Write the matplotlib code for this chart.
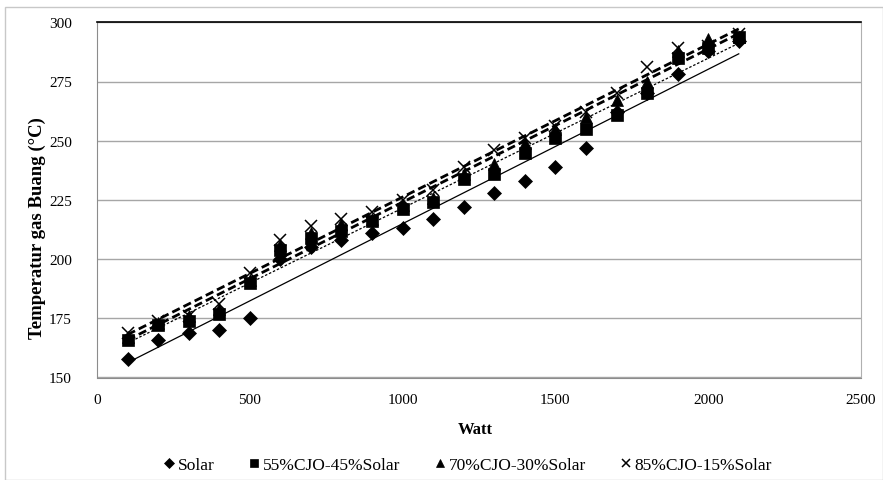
import numpy as np
import matplotlib
matplotlib.use("Agg")
import matplotlib.pyplot as plt
from matplotlib.patches import Rectangle

watt = [100, 200, 300, 400, 500, 600, 700, 800, 900, 1000, 1100,
        1200, 1300, 1400, 1500, 1600, 1700, 1800, 1900, 2000, 2100]
solar = [158, 166, 169, 170, 175, 200, 205, 208, 211, 213, 217,
         222, 228, 233, 239, 247, 262, 270, 278, 288, 292]
cjo55 = [166, 172, 174, 177, 190, 204, 209, 212, 216, 221, 224,
         234, 236, 245, 251, 255, 261, 270, 285, 289, 294]
cjo70 = [167, 173, 176, 179, 191, 206, 211, 215, 217, 223, 226,
         236, 240, 249, 255, 260, 267, 275, 288, 293, 294]
cjo85 = [169, 174, 176, 181, 194, 208, 214, 217, 220, 225, 229,
         239, 246, 251, 256, 262, 270, 281, 289, 290, 295]
labels = ["Solar", "55%CJO-45%Solar", "70%CJO-30%Solar", "85%CJO-15%Solar"]

plt.rcParams['font.family'] = ['Liberation Serif', 'DejaVu Serif']

fig = plt.figure(figsize=(8.83, 4.81), dpi=100)
W, H = 883, 481
ax_l, ax_r, ax_t, ax_b = 97, 861, 23.3, 378.5
ax = fig.add_axes([ax_l / W, 1 - ax_b / H, (ax_r - ax_l) / W, (ax_b - ax_t) / H])

# figure border
fig.patches.append(Rectangle((5 / W, 0), 1 - 5 / W - 0.5 / W, 1 - 8 / H,
                             transform=fig.transFigure, fill=False,
                             edgecolor='#c8c8c8', linewidth=1))

series = [solar, cjo55, cjo70, cjo85]
markers = ['D', 's', '^', 'x']
msizes = [7.5, 8, 8, 8]
trend_styles = [dict(ls='-', lw=0.9),
                dict(ls=(0, (2, 1.5)), lw=0.9),
                dict(ls=(0, (3, 1.5)), lw=2.0),
                dict(ls=(0, (3, 1.5)), lw=2.0)]

x = np.array(watt, dtype=float)
handles = []
for ys, m, ms, st, lab in zip(series, markers, msizes, trend_styles, labels):
    y = np.array(ys, dtype=float)
    h, = ax.plot(x, y, linestyle='none', marker=m, markersize=ms,
                 color='black', markeredgecolor='black',
                 markeredgewidth=1.1 if m == 'x' else 0.5, label=lab, zorder=3)
    handles.append(h)
    k, b = np.polyfit(x, y, 1)
    ax.plot([x[0], x[-1]], [k * x[0] + b, k * x[-1] + b], color='black',
            zorder=2, **st)

ax.set_xlim(0, 2500)
ax.set_ylim(150, 300)
ax.set_xticks(np.arange(0, 2501, 500))
ax.set_yticks(np.arange(150, 301, 25))
ax.yaxis.grid(True, color='#a6a6a6', linewidth=1)
ax.set_axisbelow(True)
ax.tick_params(length=0, labelsize=11)
ax.tick_params(axis='x', pad=11)
ax.tick_params(axis='y', pad=18)
for s in ['left', 'bottom']:
    ax.spines[s].set_color('#8c8c8c')
ax.spines['right'].set_color('#b0b0b0')
ax.spines['top'].set_color('black')
ax.spines['top'].set_linewidth(1.2)

ax.set_xlabel('Watt', fontsize=12, fontweight='bold')
ax.xaxis.set_label_coords((475 - ax_l) / (ax_r - ax_l), 1 - (430 - ax_t) / (ax_b - ax_t))
ax.xaxis.label.set_va('center')
ax.set_ylabel('Temperatur gas Buang (\u00b0C)', fontsize=13.5, fontweight='bold')
ax.yaxis.set_label_coords((37 - ax_l) / (ax_r - ax_l), 1 - (228 - ax_t) / (ax_b - ax_t))
ax.yaxis.label.set_va('center')

leg = fig.legend(handles=handles, labels=labels, loc='center',
                 bbox_to_anchor=(468 / W, 1 - 466 / H), ncol=4, frameon=False,
                 fontsize=12.5, handlelength=0.6, handletextpad=0.2,
                 columnspacing=2.0, markerscale=0.7)

fig.savefig('out.png', dpi=100)
